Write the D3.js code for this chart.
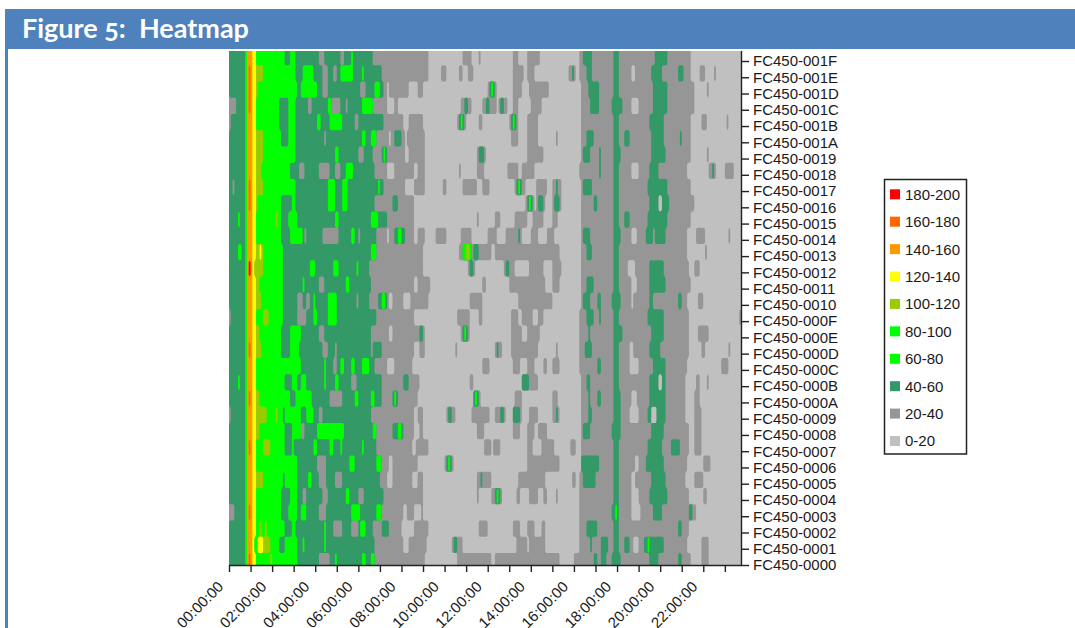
<!DOCTYPE html>
<html>
<head>
<meta charset="utf-8">
<title>Figure 5: Heatmap</title>
<script src="https://cdn.jsdelivr.net/npm/d3@7"></script>
<style>
  html, body { margin: 0; padding: 0; background: #fff; overflow: hidden; }
  text { font-family: "Liberation Sans", Arial, sans-serif; fill: #1a1a1a; }
  .title { font-family: Lato, "Open Sans", sans-serif; font-weight: 700; fill: #fff; white-space: pre; font-feature-settings: "onum"; }
</style>
</head>
<body>
<svg id="chart" width="1075" height="628"></svg>
<script>
// top row first, same order as the runs in heatRuns
var rowLabels = ["FC450-001F","FC450-001E","FC450-001D","FC450-001C","FC450-001B","FC450-001A","FC450-0019","FC450-0018",
  "FC450-0017","FC450-0016","FC450-0015","FC450-0014","FC450-0013","FC450-0012","FC450-0011","FC450-0010",
  "FC450-000F","FC450-000E","FC450-000D","FC450-000C","FC450-000B","FC450-000A","FC450-0009","FC450-0008",
  "FC450-0007","FC450-0006","FC450-0005","FC450-0004","FC450-0003","FC450-0002","FC450-0001","FC450-0000"];
var hourTicks = [0,1,2,3,4,5,6,7,8,9,10,11,12,13,14,15,16,17,18,19,20,21,22,23];
var hourLabels = ["00:00:00","02:00:00","04:00:00","06:00:00","08:00:00","10:00:00","12:00:00","14:00:00","16:00:00","18:00:00","20:00:00","22:00:00"];
var bandLabels = ["0-20","20-40","40-60","60-80","80-100","100-120","120-140","140-160","160-180","180-200"];
var bandFloors = [0,20,40,60,80,100,120,140,160,180];
var bandColors = ["#c0c0c0","#969696","#339966","#00ff00","#00ff00","#99cc00","#ffff00","#ff9900","#ff6600","#ff0000"];

// each run is band@endColumn, one column = 5 minutes
var heatRuns = [
"2@9 3@10 7@13 6@15 3@31 2@34 3@37 2@50 1@53 2@62 1@64 2@68 3@69 2@80 1@111 0@130 1@135 0@139 1@140 0@158 1@161 0@166 1@173 0@195 1@197 2@202 1@214 2@217 1@237 2@244 1@257 0@285",
"2@9 3@10 7@11 8@12 7@13 6@15 5@19 3@37 2@41 3@47 2@52 1@55 2@58 1@60 2@62 3@69 2@74 3@75 2@85 1@111 0@118 1@121 0@128 1@130 0@133 1@136 0@158 1@164 0@166 1@170 0@189 1@191 2@192 1@193 0@195 1@199 2@202 1@214 2@217 1@224 0@226 1@235 2@241 1@250 2@253 1@257 0@262 1@265 0@270 1@271 0@285",
"2@9 3@10 7@11 8@12 7@13 6@15 5@16 3@38 2@40 3@49 2@52 1@55 2@73 1@76 2@81 3@84 2@86 1@88 0@89 1@100 0@105 1@108 0@144 1@145 2@146 3@147 2@148 1@149 0@158 1@163 0@167 1@178 0@196 1@200 2@206 1@214 2@217 1@236 2@244 1@259 0@266 1@267 0@285",
"1@4 2@9 3@10 7@11 8@12 7@13 6@15 3@28 2@33 3@37 2@44 1@46 2@55 3@57 1@62 2@65 1@66 2@74 3@80 1@88 0@92 1@94 0@107 0@129 1@131 2@133 1@135 0@141 1@143 2@145 1@149 0@150 1@151 2@153 1@155 0@158 1@161 0@168 1@174 0@196 1@201 2@206 1@213 2@219 1@224 0@228 1@236 2@244 1@259 0@285",
"1@1 2@9 3@10 7@13 6@15 3@28 2@33 3@37 2@49 3@51 2@56 3@63 2@70 1@72 2@86 1@97 0@100 1@108 0@127 1@128 2@129 3@130 2@131 1@132 0@139 1@141 0@156 1@157 2@158 3@159 2@160 1@161 0@166 1@172 0@196 1@214 2@217 1@234 2@242 1@257 0@263 1@266 0@277 1@278 0@285",
"2@9 3@10 7@13 6@15 5@19 3@29 2@33 3@37 2@53 1@54 2@74 3@76 2@79 3@82 1@89 0@90 1@92 2@96 1@98 0@99 1@109 0@157 1@161 0@166 1@172 0@182 1@183 0@196 1@199 2@203 1@214 2@217 1@220 2@223 1@235 2@242 1@251 2@252 1@257 0@285",
"2@9 3@10 7@13 6@15 5@19 3@37 2@59 3@61 2@72 1@75 2@80 1@85 2@86 3@87 2@88 1@98 0@100 1@109 0@138 1@139 2@142 1@143 0@166 1@175 0@196 1@197 2@201 1@206 2@207 1@214 2@218 1@235 2@243 1@257 0@266 1@267 0@285",
"2@9 3@10 7@13 6@15 5@18 3@34 2@39 1@42 2@50 1@56 2@59 1@62 2@65 3@69 2@81 1@88 0@92 1@103 0@105 1@109 0@128 1@129 0@138 1@142 0@155 1@161 0@163 1@170 0@195 1@206 2@207 1@214 2@217 1@224 0@228 1@234 2@239 1@255 0@267 1@269 2@270 1@271 0@276 1@281 0@285",
"2@2 1@3 2@9 3@10 7@11 8@12 7@13 6@15 5@19 3@37 2@55 3@59 2@63 3@66 2@83 3@84 2@86 1@98 0@103 1@109 0@119 1@121 0@130 1@138 0@141 1@145 0@159 1@160 2@161 3@162 2@163 1@165 0@171 1@177 0@180 1@182 2@183 1@185 0@196 1@197 2@202 1@214 2@217 1@233 2@244 1@257 0@285",
"2@9 3@10 7@11 8@12 7@13 6@15 5@16 3@29 2@35 3@37 2@55 3@59 2@63 3@66 2@81 1@91 2@94 1@103 0@165 1@166 2@167 3@168 2@169 1@170 0@171 1@172 2@175 1@176 0@180 1@181 2@184 1@185 0@196 1@203 2@205 1@214 2@217 1@234 2@239 0@241 2@245 1@259 0@285",
"2@5 3@6 2@9 3@10 7@13 6@15 3@26 5@27 3@29 2@33 3@38 2@59 3@61 2@79 3@83 2@88 1@103 0@138 1@139 0@148 1@151 0@159 1@166 0@169 1@175 0@180 1@183 0@196 1@214 2@217 1@220 2@223 1@233 2@244 1@257 0@285",
"2@9 3@10 7@13 6@15 3@29 2@34 3@41 2@42 1@43 2@52 1@61 2@68 3@70 2@72 1@73 2@82 1@88 0@89 1@92 2@94 3@96 2@98 1@103 0@105 1@109 0@115 1@121 0@129 1@135 0@144 1@149 0@154 1@158 1@161 2@162 1@163 0@168 1@172 0@177 1@181 0@196 1@197 2@201 1@214 2@218 1@224 0@227 1@232 2@236 1@237 2@243 1@255 0@260 1@265 0@278 1@279 0@285",
"2@5 3@7 2@9 3@10 7@13 6@15 5@17 6@18 5@19 3@30 2@79 3@82 1@108 0@128 1@130 3@132 5@134 3@135 1@136 2@139 1@146 0@148 1@184 0@196 1@199 2@202 1@214 2@217 1@255 0@265 1@266 0@285",
"2@9 3@10 7@11 9@12 7@13 6@14 5@19 3@30 2@45 3@48 2@58 3@61 2@71 3@72 2@78 1@108 0@133 1@134 2@136 1@137 0@153 1@154 2@156 1@159 0@167 1@175 0@180 1@185 0@196 1@214 2@217 1@222 0@226 1@234 2@242 1@256 0@259 1@262 0@285",
"2@9 3@10 7@13 6@15 5@17 3@30 2@41 3@42 2@50 1@53 2@65 3@67 2@79 1@103 0@105 1@112 0@141 1@143 0@156 1@176 0@180 1@184 0@196 1@199 2@203 1@214 2@217 1@224 0@227 1@234 2@243 1@257 0@285",
"2@9 3@10 7@13 6@15 5@18 3@30 2@38 1@41 2@43 1@45 2@47 3@48 2@55 3@60 2@71 1@72 2@78 1@83 2@85 3@87 2@88 1@89 0@91 1@97 0@101 1@111 0@134 1@141 0@161 1@180 0@196 1@197 2@201 1@205 2@207 1@213 2@218 1@224 0@225 1@234 2@236 1@250 2@252 1@255 0@261 1@264 0@285",
"1@1 2@9 3@10 7@13 6@15 3@19 5@22 3@30 2@38 1@43 2@47 3@49 2@55 3@60 2@82 1@103 0@127 1@134 0@139 1@141 0@157 1@161 0@163 1@169 0@172 1@175 0@195 1@199 2@203 1@206 2@207 1@214 2@217 1@233 2@242 1@256 0@284 1@285",
"2@9 3@10 7@13 6@15 5@17 3@29 2@34 3@40 2@50 1@53 2@79 1@89 0@91 1@106 2@108 1@109 0@129 1@130 2@131 3@132 2@133 1@134 0@157 1@163 0@166 1@173 0@195 1@200 2@201 1@214 2@219 1@235 2@242 1@256 0@261 1@267 0@285",
"2@9 3@10 7@11 8@12 7@13 6@15 5@18 3@29 2@34 3@39 2@52 1@55 2@59 1@60 2@79 1@80 2@85 1@103 0@106 1@109 0@126 1@127 0@148 1@149 2@150 1@152 0@157 1@172 0@182 1@183 0@195 1@198 2@202 1@214 2@217 1@223 0@225 1@234 2@240 1@256 0@263 1@265 0@278 1@279 0@285",
"2@9 3@10 7@13 6@15 3@40 2@53 3@54 2@58 1@60 2@62 3@64 2@68 3@70 2@74 3@78 2@81 1@88 0@92 1@102 0@141 1@145 0@158 1@162 0@166 1@170 0@175 1@177 0@180 1@184 0@195 1@205 2@207 1@214 2@217 1@223 0@228 1@236 2@243 1@255 0@274 1@278 0@285",
"2@5 3@6 2@9 3@10 7@13 6@15 3@31 2@35 3@38 2@40 3@43 2@53 3@54 2@59 3@61 2@68 1@71 2@85 1@97 2@100 1@106 0@134 1@136 0@163 2@167 1@172 0@196 1@199 2@201 1@214 2@217 1@234 2@239 0@241 2@243 1@254 0@260 1@262 0@266 1@267 0@285",
"2@9 3@10 7@11 8@12 7@13 6@15 5@17 3@34 2@37 3@46 2@56 1@63 2@70 3@72 2@79 3@81 2@85 1@91 2@92 3@93 2@94 1@105 0@136 2@137 3@138 2@139 1@140 0@159 1@163 0@180 1@183 0@196 1@200 2@201 1@205 2@207 1@214 2@218 1@224 0@227 1@234 2@243 1@254 0@259 1@262 0@285",
"1@1 2@9 3@10 7@13 6@15 5@21 3@26 5@27 3@30 2@31 3@40 2@43 3@47 2@50 1@52 2@79 1@103 0@105 1@108 0@121 1@122 2@124 1@126 0@135 1@145 0@148 1@151 2@153 1@154 0@158 2@162 1@163 0@167 1@172 0@180 1@182 2@183 1@184 0@196 1@200 2@202 1@214 2@218 1@223 0@228 1@233 2@235 0@238 2@243 1@254 0@259 1@263 0@285",
"2@9 3@10 7@13 6@15 5@17 3@31 2@35 3@40 1@42 2@49 3@64 2@80 3@82 1@91 2@94 3@96 2@97 1@103 0@106 1@108 0@138 1@142 0@158 1@162 0@166 1@170 0@172 1@177 0@196 1@197 2@201 1@213 2@218 1@235 2@242 1@256 0@259 1@263 0@285",
"2@9 3@10 7@11 8@12 7@13 6@15 3@19 5@23 3@31 2@35 3@36 2@47 3@49 2@56 3@58 2@62 3@63 2@74 3@75 2@82 1@102 0@104 1@111 0@142 1@146 0@147 1@151 0@166 1@169 0@174 1@181 0@190 1@193 0@196 1@214 2@217 1@233 2@241 1@246 2@251 1@256 0@259 1@263 0@285",
"2@9 3@10 7@13 6@15 3@38 2@49 1@54 2@67 3@70 2@82 3@85 1@89 0@91 1@105 0@120 1@121 2@122 3@123 2@124 1@125 0@166 1@184 0@196 2@206 1@214 2@217 1@226 0@228 1@232 2@242 1@255 0@264 1@268 0@285",
"2@9 3@10 7@13 6@15 5@19 3@30 2@31 3@38 2@44 3@46 2@50 1@54 2@59 1@63 2@84 1@88 0@91 1@102 0@105 1@108 0@138 1@140 2@141 1@146 0@161 1@176 0@191 1@193 0@195 1@197 2@204 1@214 2@217 1@224 0@226 1@235 2@243 1@254 0@259 1@264 0@285",
"2@9 3@10 7@13 6@15 3@29 2@34 3@38 2@41 1@43 2@52 1@55 2@65 3@67 2@72 1@75 2@86 1@108 0@138 1@139 0@146 1@148 2@149 3@150 2@151 1@152 0@160 1@162 0@167 1@172 0@175 1@177 0@182 1@183 0@195 1@214 2@217 1@224 0@228 1@234 2@244 1@256 0@264 1@266 0@285",
"1@3 2@9 3@10 7@11 8@12 7@13 6@15 3@29 2@33 3@38 2@40 3@43 2@50 1@54 2@68 3@73 2@82 3@85 1@97 0@99 1@103 0@107 1@108 0@195 1@213 2@215 3@216 2@217 1@224 0@229 1@236 2@241 1@256 2@258 1@260 0@285",
"2@9 3@10 7@13 6@15 3@17 5@18 3@20 5@21 3@31 2@35 3@37 2@53 3@54 2@58 1@63 2@68 1@72 2@73 3@76 2@80 1@85 2@89 1@96 0@103 1@111 0@139 1@144 0@158 1@162 0@166 1@170 0@174 1@176 0@195 1@199 2@205 1@214 2@217 1@250 2@252 1@256 0@285",
"2@9 3@10 7@13 6@14 3@16 6@19 5@23 3@28 2@31 3@38 2@41 3@42 2@53 3@54 2@81 1@97 0@100 1@110 0@124 1@125 2@127 1@130 0@160 1@166 0@167 1@176 0@195 1@201 2@202 1@207 2@211 1@214 2@217 1@220 2@223 1@225 0@228 1@231 2@233 3@234 2@242 1@255 0@263 1@267 0@285",
"2@9 3@10 7@11 8@12 7@13 6@15 3@23 5@24 3@38 2@50 1@56 2@59 3@60 2@74 3@76 2@79 3@81 1@109 0@127 1@146 0@148 1@184 0@192 1@203 2@205 1@207 2@210 1@213 2@218 1@234 2@239 1@250 2@252 1@257 0@263 1@267 0@285"
];

var svg = d3.select('#chart');
var blue = '#4f81bd';

// page frame and title bar
svg.append('rect').attr('x', 5).attr('y', 9).attr('width', 1070).attr('height', 40).attr('fill', blue);
svg.append('rect').attr('x', 5).attr('y', 9).attr('width', 3).attr('height', 619).attr('fill', blue);
svg.append('text').attr('class', 'title').attr('x', 22).attr('y', 38)
	.style('font-size', '27px').text('Figure 5:  Heatmap');

var xscale = d3.scaleLinear().domain([0, 1425]).range([229, 741]);
var yscale = d3.scalePoint().domain(rowLabels).range([61, 565]);
var colW = xscale(5) - xscale(0);
var rowH = yscale.step();

// expand runs to a grid, 4 grid lines a row so contours get small chamfered corners
var nCols = 285, subRows = 4;
var grid = new Array(nCols * rowLabels.length * subRows);
heatRuns.forEach(function(row, r) {
	var col = 0;
	row.split(' ').forEach(function(run) {
		var p = run.split('@');
		var val = bandFloors[+p[0]] + 10;
		for (; col < +p[1]; col++) {
			for (var s = 0; s < subRows; s++) {
				grid[col + (r * subRows + s) * nCols] = val;
			}
		}
	});
});

var contours = d3.contours()
	.size([nCols, rowLabels.length * subRows])
	.smooth(false)
	.thresholds(bandFloors)(grid);

svg.append('clipPath').attr('id', 'plotclip').append('rect')
	.attr('x', 229).attr('y', 51).attr('width', 512).attr('height', 514);

var path = d3.geoPath();
svg.append('g').attr('clip-path', 'url(#plotclip)')
	.append('g')
	.attr('transform', 'translate(229,' + (yscale(rowLabels[0]) - 12) + ') scale(' + colW + ',' + (rowH / subRows) + ')')
	.selectAll('path')
	.data(contours)
	.enter().append('path')
	.attr('d', path)
	.attr('fill', function(d, i) { return bandColors[i]; });

// axes
var yaxis = d3.axisRight(yscale).tickSize(8).tickPadding(4).tickSizeOuter(0);
var yg = svg.append('g').attr('transform', 'translate(741,0)').call(yaxis);
yg.select('.domain').attr('d', 'M0.5,51V565');
yg.selectAll('text').style('font-size', '15px');

var xaxis = d3.axisBottom(d3.scaleLinear().domain([0, 1425 / 60]).range([229, 741]))
	.tickValues(hourTicks)
	.tickSize(7)
	.tickSizeOuter(0)
	.tickFormat(function(h) { return h % 2 ? '' : hourLabels[h / 2]; });
var xg = svg.append('g').attr('transform', 'translate(0,565)').call(xaxis);
xg.selectAll('text')
	.style('font-size', '15px')
	.attr('text-anchor', 'end')
	.attr('dy', '0.35em')
	.attr('transform', 'translate(-9,19) rotate(-45)')
	.attr('y', 0);

svg.selectAll('.domain, .tick line').attr('stroke', '#222').attr('stroke-width', 1.4);

// legend, highest band first
var legendBands = d3.range(bandLabels.length - 1, -1, -1);
var legendY = d3.scalePoint().domain(legendBands).range([194.3, 441]);
svg.append('rect').attr('x', 884.5).attr('y', 179.5).attr('width', 82).attr('height', 274.5)
	.attr('fill', '#fff').attr('stroke', '#222').attr('stroke-width', 1.5);
var legend = svg.selectAll('.legend').data(legendBands).enter().append('g').attr('class', 'legend')
	.attr('transform', function(d) { return 'translate(890,' + legendY(d) + ')'; });
legend.append('rect').attr('y', -5).attr('width', 10).attr('height', 10)
	.attr('fill', function(d) { return bandColors[d]; });
legend.append('text').attr('x', 15).attr('dy', '0.36em').style('font-size', '15px')
	.text(function(d) { return bandLabels[d]; });
</script>
</body>
</html>
